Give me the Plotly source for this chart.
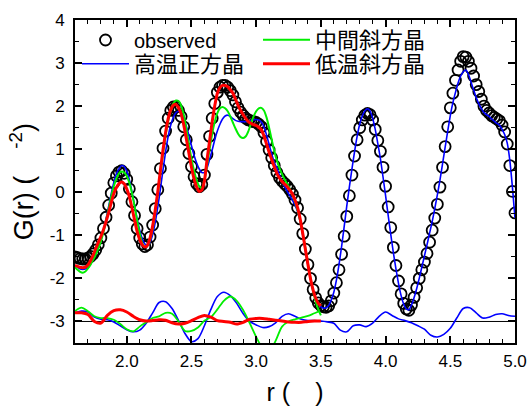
import numpy as np
import plotly.graph_objects as go

# ---------------- data ----------------
R_START = 1.60
R_STEP = 0.02          # sampling step of observed / calculated curves (Å)
DR_STEP = 0.05         # sampling step of the difference curves (Å)

# observed G(r), r = 1.60 ... 5.00
G_OBS = [
    -1.50, -1.52, -1.54, -1.55, -1.55, -1.53, -1.49, -1.43, -1.34, -1.22,
    -1.06, -0.84, -0.58, -0.30, -0.02, 0.22, 0.38, 0.47, 0.50, 0.44,
    0.30, 0.08, -0.22, -0.54, -0.84, -1.06, -1.20, -1.26, -1.22, -1.04,
    -0.76, -0.38, 0.06, 0.55, 1.02, 1.42, 1.72, 1.90, 1.98, 1.98,
    1.90, 1.76, 1.52, 1.22, 0.90, 0.60, 0.36, 0.20, 0.13, 0.18,
    0.40, 0.88, 1.30, 1.72, 2.06, 2.32, 2.44, 2.48, 2.48, 2.44,
    2.36, 2.26, 2.10, 1.96, 1.86, 1.78, 1.72, 1.68, 1.66, 1.64,
    1.62, 1.58, 1.52, 1.38, 1.18, 0.98, 0.80, 0.62, 0.46, 0.34,
    0.26, 0.20, 0.14, 0.06, -0.04, -0.18, -0.36, -0.62, -0.96, -1.32,
    -1.68, -2.00, -2.26, -2.45, -2.57, -2.63, -2.66, -2.67, -2.64, -2.52,
    -2.34, -2.10, -1.80, -1.44, -1.02, -0.56, -0.08, 0.40, 0.84, 1.22,
    1.50, 1.68, 1.79, 1.83, 1.80, 1.68, 1.46, 1.20, 0.95, 0.58,
    0.14, -0.34, -0.82, -1.28, -1.70, -2.06, -2.36, -2.58, -2.71, -2.74,
    -2.62, -2.44, -2.22, -2.00, -1.80, -1.62, -1.42, -1.16, -0.88, -0.60,
    -0.28, 0.12, 0.58, 1.06, 1.52, 1.96, 2.30, 2.60, 2.84, 3.04,
    3.15, 3.14, 3.04, 2.88, 2.70, 2.50, 2.34, 2.16, 2.00, 1.90,
    1.84, 1.78, 1.74, 1.70, 1.66, 1.56, 1.40, 1.12, 0.62, 0.02,
    -0.48,
]

# 高温正方晶 fit, r = 1.60 ... 5.00
G_HT = [
    -1.70, -1.74, -1.78, -1.79, -1.78, -1.75, -1.67, -1.55, -1.42, -1.28,
    -1.11, -0.88, -0.62, -0.33, -0.03, 0.23, 0.43, 0.55, 0.62, 0.60,
    0.49, 0.29, 0.01, -0.30, -0.62, -0.88, -1.08, -1.20, -1.24, -1.16,
    -0.98, -0.70, -0.34, 0.08, 0.52, 0.94, 1.30, 1.56, 1.74, 1.85,
    1.88, 1.84, 1.72, 1.54, 1.32, 1.08, 0.86, 0.68, 0.54, 0.46,
    0.46, 0.56, 0.76, 0.98, 1.22, 1.42, 1.58, 1.70, 1.77, 1.79,
    1.76, 1.71, 1.67, 1.65, 1.64, 1.64, 1.64, 1.65, 1.66, 1.68,
    1.69, 1.68, 1.63, 1.52, 1.33, 1.11, 0.89, 0.69, 0.56, 0.40,
    0.26, 0.13, 0.02, -0.08, -0.18, -0.30, -0.45, -0.68, -1.00, -1.35,
    -1.70, -2.02, -2.28, -2.47, -2.59, -2.66, -2.69, -2.68, -2.63, -2.50,
    -2.32, -2.04, -1.68, -1.26, -0.80, -0.32, 0.12, 0.54, 0.94, 1.30,
    1.58, 1.77, 1.89, 1.94, 1.89, 1.72, 1.46, 1.13, 0.78, 0.36,
    -0.08, -0.54, -0.98, -1.40, -1.78, -2.12, -2.40, -2.60, -2.71, -2.73,
    -2.62, -2.45, -2.24, -2.00, -1.74, -1.48, -1.22, -0.95, -0.68, -0.38,
    -0.06, 0.28, 0.66, 1.04, 1.42, 1.78, 2.08, 2.32, 2.54, 2.70,
    2.80, 2.84, 2.74, 2.56, 2.38, 2.20, 2.06, 1.94, 1.85, 1.80,
    1.76, 1.70, 1.65, 1.60, 1.56, 1.46, 1.34, 1.14, 0.74, 0.12,
    -0.60,
]

# 中間斜方晶 fit, r = 1.60 ... 3.50
G_MID = [
    -1.74, -1.80, -1.85, -1.87, -1.84, -1.77, -1.68, -1.57, -1.45, -1.31,
    -1.14, -0.92, -0.66, -0.38, -0.10, 0.14, 0.32, 0.44, 0.48, 0.46,
    0.38, 0.22, -0.02, -0.32, -0.66, -0.96, -1.18, -1.27, -1.24, -1.10,
    -0.84, -0.48, -0.04, 0.44, 0.90, 1.32, 1.66, 1.90, 2.06, 2.13,
    2.12, 2.02, 1.80, 1.48, 1.12, 0.78, 0.50, 0.28, 0.14, 0.10,
    0.28, 0.62, 1.00, 1.36, 1.64, 1.84, 1.95, 1.98, 1.95, 1.88,
    1.76, 1.62, 1.48, 1.36, 1.28, 1.26, 1.30, 1.42, 1.60, 1.76,
    1.88, 1.95, 1.96, 1.90, 1.74, 1.50, 1.22, 0.96, 0.74, 0.56,
    0.42, 0.30, 0.19, 0.08, -0.06, -0.22, -0.42, -0.66, -0.96, -1.30,
    -1.66, -2.00, -2.30, -2.54, -2.72, -2.86,
]

# 低温斜方晶 fit, r = 1.60 ... 3.50
G_LT = [
    -1.70, -1.72, -1.74, -1.75, -1.74, -1.69, -1.59, -1.46, -1.31, -1.17,
    -1.03, -0.87, -0.68, -0.47, -0.24, -0.03, 0.11, 0.20, 0.24, 0.20,
    0.08, -0.10, -0.36, -0.64, -0.91, -1.10, -1.22, -1.27, -1.23, -1.06,
    -0.78, -0.41, 0.02, 0.51, 0.98, 1.39, 1.71, 1.92, 2.02, 2.04,
    1.96, 1.82, 1.57, 1.25, 0.91, 0.58, 0.31, 0.12, 0.02, 0.05,
    0.26, 0.75, 1.19, 1.64, 2.01, 2.30, 2.43, 2.48, 2.48, 2.45,
    2.38, 2.30, 2.16, 2.02, 1.90, 1.80, 1.71, 1.64, 1.60, 1.57,
    1.55, 1.51, 1.45, 1.31, 1.12, 0.93, 0.76, 0.59, 0.44, 0.33,
    0.25, 0.19, 0.13, 0.05, -0.04, -0.18, -0.36, -0.62, -0.96, -1.32,
    -1.68, -2.01, -2.27, -2.46, -2.58, -2.64,
]

# differences (observed - fit), r = 1.60 ... (step 0.05), drawn shifted by DIFF_OFFSET
D_HT = [
    0.20, 0.24, 0.22, 0.10, 0.05, 0.04, -0.01, -0.10, -0.19, -0.24,
    -0.20, -0.04, 0.20, 0.44, 0.46, 0.30, 0.02, -0.28, -0.47, -0.40,
    -0.10, 0.28, 0.58, 0.68, 0.60, 0.42, 0.18, 0.00, -0.08, -0.14,
    -0.12, -0.03, 0.12, 0.18, 0.12, 0.05, 0.02, 0.02, 0.01, -0.01,
    -0.04, -0.20, -0.24, -0.10, -0.08, -0.12, -0.04, 0.12, 0.22, 0.14,
    0.06, 0.02, -0.03, -0.10, -0.18, -0.32, -0.36, -0.30, -0.16, 0.08,
    0.30, 0.32, 0.20, 0.08, 0.10, 0.16, 0.18, 0.14, 0.12,
]
D_MID = [
    0.24, 0.32, 0.24, 0.12, 0.08, 0.08, 0.04, -0.06, -0.18, -0.23,
    -0.12, -0.02, 0.08, 0.12, 0.20, 0.18, 0.00, -0.22, -0.22, -0.14,
    0.02, 0.10, 0.28, 0.48, 0.58, 0.48, 0.26, -0.04, -0.36, -0.62,
    -0.70, -0.45, -0.12, 0.00, 0.05, 0.09, 0.13, 0.19, 0.25,
]
D_LT = [
    0.20, 0.20, 0.16, 0.00, -0.04, 0.14, 0.25, 0.27, 0.22, 0.12,
    0.04, 0.01, 0.02, 0.04, 0.03, -0.03, -0.06, -0.04, 0.02, 0.09,
    0.14, 0.10, 0.02, 0.00, -0.02, -0.06, -0.02, 0.05, 0.07, 0.07,
    0.05, 0.03, 0.01, -0.01, -0.02, -0.02, 0.00, 0.01, 0.01,
]
DIFF_OFFSET = -3.0

X_RANGE = [1.6, 5.0]
Y_RANGE = [-3.5, 4.0]
X_TICKS = [2.0, 2.5, 3.0, 3.5, 4.0, 4.5, 5.0]
X_TICK_LABELS = ["2.0", "2.5", "3.0", "3.5", "4.0", "4.5", "5.0"]
Y_TICKS = [-3, -2, -1, 0, 1, 2, 3, 4]
Y_TICK_LABELS = ["-3", "-2", "-1", "0", "1", "2", "3", "4"]

NAME_OBS = "observed"
NAME_HT = "高温正方晶"
NAME_MID = "中間斜方晶"
NAME_LT = "低温斜方晶"

C_OBS = "black"
C_HT = "#0000ff"
C_MID = "#00ee00"
C_LT = "#ff0000"

FONT = "Liberation Sans, Arial, 'Noto Sans CJK JP', sans-serif"


def grid(n, step):
    return np.round(R_START + step * np.arange(n), 3)


r_obs = grid(len(G_OBS), R_STEP)
r_ht = grid(len(G_HT), R_STEP)
r_mid = grid(len(G_MID), R_STEP)
r_lt = grid(len(G_LT), R_STEP)
rd_ht = grid(len(D_HT), DR_STEP)
rd_mid = grid(len(D_MID), DR_STEP)
rd_lt = grid(len(D_LT), DR_STEP)

fig = go.Figure()

# zero line of the difference curves
fig.add_trace(go.Scatter(x=X_RANGE, y=[DIFF_OFFSET, DIFF_OFFSET], mode="lines",
                         line=dict(color="black", width=1), showlegend=False,
                         hoverinfo="skip"))

# difference curves
for rr, dd, col, w in [(rd_ht, D_HT, C_HT, 1.6), (rd_mid, D_MID, C_MID, 1.8),
                       (rd_lt, D_LT, C_LT, 3.0)]:
    fig.add_trace(go.Scatter(x=rr, y=np.array(dd) + DIFF_OFFSET, mode="lines",
                             line=dict(color=col, width=w, shape="spline", smoothing=0.8),
                             showlegend=False))

# observed
fig.add_trace(go.Scatter(x=r_obs, y=G_OBS, mode="markers", name=NAME_OBS,
                         marker=dict(symbol="circle-open", size=11, color=C_OBS,
                                     line=dict(width=1.8, color=C_OBS)),
                         legend="legend"))
# fits
fig.add_trace(go.Scatter(x=r_ht, y=G_HT, mode="lines", name=NAME_HT,
                         line=dict(color=C_HT, width=1.6, shape="spline", smoothing=0.5),
                         legend="legend2"))
fig.add_trace(go.Scatter(x=r_mid, y=G_MID, mode="lines", name=NAME_MID,
                         line=dict(color=C_MID, width=2.0, shape="spline", smoothing=0.5),
                         legend="legend3"))
fig.add_trace(go.Scatter(x=r_lt, y=G_LT, mode="lines", name=NAME_LT,
                         line=dict(color=C_LT, width=3.0, shape="spline", smoothing=0.5),
                         legend="legend4"))

W, H = 528, 406
ML, MR, MT, MB = 75, 13, 20, 63
PW, PH = W - ML - MR, H - MT - MB


def px2paper(px, py):
    return (px - ML) / PW, (H - MB - py) / PH


def leg(px, py, size):
    x, y = px2paper(px, py)
    return dict(x=x, y=y, xanchor="left", yanchor="middle", bgcolor="rgba(0,0,0,0)",
                borderwidth=0, font=dict(family=FONT, size=size, color="black"),
                itemwidth=47)


fig.update_layout(
    width=W, height=H,
    margin=dict(l=ML, r=MR, t=MT, b=MB, pad=0, autoexpand=False),
    paper_bgcolor="white", plot_bgcolor="white",
    font=dict(family=FONT, size=17, color="black"),
    showlegend=True,
    legend=leg(77, 40, 20),
    legend2=leg(77, 64, 22),
    legend3=leg(258, 40, 22),
    legend4=leg(258, 64, 22),
)

base = dict(
    showline=True, linecolor="black", linewidth=1.6, mirror="allticks",
    ticks="inside", ticklen=7, tickwidth=1.6, tickcolor="black",
    showgrid=False, zeroline=False, automargin=False,
    tickfont=dict(family=FONT, size=17, color="black"),
)

# linear tick placement (draws the tick marks); label text taken from the label arrays
x_alias = {f"{v:.1f}": lbl for v, lbl in zip(X_TICKS, X_TICK_LABELS)}
y_alias = {f"{v}".replace("-", "\u2212"): lbl for v, lbl in zip(Y_TICKS, Y_TICK_LABELS)}

fig.update_xaxes(
    range=X_RANGE, tickmode="linear", tick0=X_TICKS[0], dtick=X_TICKS[1] - X_TICKS[0],
    tickformat=".1f", labelalias=x_alias,
    minor=dict(ticks="inside", dtick=0.1, ticklen=4, tickwidth=1.3, tickcolor="black"),
    ticklabelstandoff=2,
    title=dict(text="r (\u2003)", font=dict(family=FONT, size=25, color="black"),
               standoff=16),
    **base,
)
fig.update_yaxes(
    range=Y_RANGE, tickmode="linear", tick0=Y_TICKS[0], dtick=Y_TICKS[1] - Y_TICKS[0],
    labelalias=y_alias,
    minor=dict(ticks="inside", dtick=0.5, ticklen=4, tickwidth=1.3, tickcolor="black"),
    ticklabelstandoff=5,
    title=dict(text="G(r) (\u2003<sup>-2</sup>)",
               font=dict(family=FONT, size=27, color="black"), standoff=8),
    **base,
)

fig.write_html("out.html")
